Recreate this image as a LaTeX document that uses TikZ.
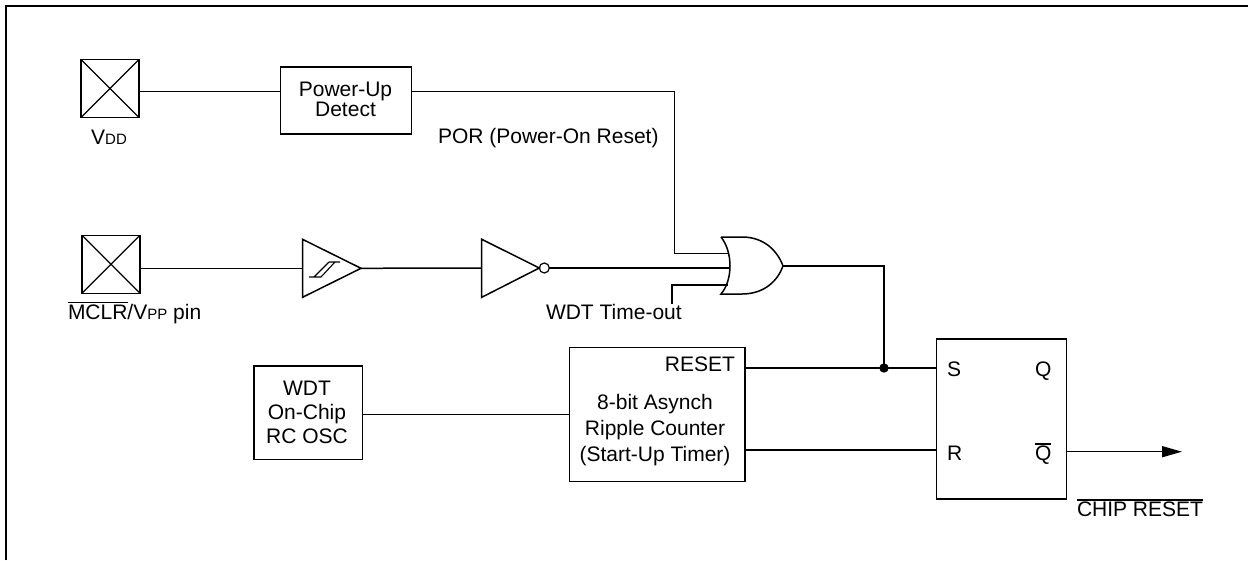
\documentclass[tikz,border=0pt]{standalone}
\usepackage{fontspec}
\setmainfont{Liberation Sans}
\usetikzlibrary{arrows.meta,calc}
\newcommand\ovl[1]{\vbox{\hrule height 1.3pt\kern 1.4pt\hbox{#1}}}
\newcommand\smallsub[1]{{\fontsize{15}{15}\selectfont #1}}
\begin{document}
\begin{tikzpicture}[x=1pt,y=-1pt, line width=1.5pt,
  every node/.style={font=\fontsize{21}{24}\selectfont, inner sep=0pt, outer sep=0pt},
  blk/.style={draw, line width=1.5pt},
  pad/.style={draw, minimum width=58pt, minimum height=58pt,
    path picture={\draw[line width=1.2pt] (path picture bounding box.south west) -- (path picture bounding box.north east)
      (path picture bounding box.north west) -- (path picture bounding box.south east);}},
  frame/.style={line width=2.8pt}]
\useasboundingbox (0,0) rectangle (1248,560);
% frame
\draw[frame] (6,560) -- (6,6) -- (1248,6);

% pads
\node[pad] (vdd) at (110,88.5) {};
\node[pad] (mclr) at (111,264.3) {};
\node[anchor=base] (vddlbl) at (109,144) {V\smallsub{DD}};
\node[anchor=base west] (mclrlbl) at (68,319) {\ovl{MCLR}/V\smallsub{PP} pin};

% power-up detect
\node[blk, minimum width=131pt, minimum height=67pt] (pud) at (346,100.7) {};
\node[anchor=base] (pud1) at (345.5,96) {Power-Up};
\node[anchor=base] (pud2) at (345.5,116.7) {Detect};
\node[anchor=base west] (por) at (438,143) {POR (Power-On Reset)};

% schmitt buffer
\coordinate (stin) at (302.5,268.3);
\coordinate (stout) at (361,268.3);
\draw (302.5,239.3) -- (stout) -- (302.5,297.3) -- cycle;
\draw[line width=1.1pt] (309,277) -- (321,277) (314,277) -- (329,262) (321,277) -- (335,262) (329,262) -- (340,262);

% inverter
\coordinate (invin) at (481.7,268);
\draw (481.7,239.3) -- (539.3,268) -- (481.7,297.3) -- cycle;
\node[circle, draw, line width=1.2pt, minimum size=10pt] (bub) at (544.3,268) {};

% OR gate
\draw (721,237) -- (742,237) .. controls (765,237) and (778,252) .. (783,266)
      .. controls (778,280) and (765,294) .. (742,294) -- (721,294)
      .. controls (733,280) and (733,252) .. (721,237);
\coordinate (orin1) at (727.5,253.3);
\coordinate (orin2) at (730,268);
\coordinate (orin3) at (727.5,285);
\coordinate (orout) at (783,266);
\coordinate (porx) at (674.3,253.3);
\coordinate (wdtto) at (672,303.5);
\node[anchor=base west] (wdtlbl) at (546,319.3) {WDT Time-out};

% WDT oscillator
\node[blk, minimum width=108.7pt, minimum height=93.3pt] (wdt) at (308.3,412.7) {};
\node[anchor=base] (w1) at (307,395.7) {WDT};
\node[anchor=base] (w2) at (307,419.3) {On-Chip};
\node[anchor=base] (w3) at (307,443.3) {RC OSC};

% counter
\node[blk, minimum width=175.7pt, minimum height=134pt] (ctr) at (657.2,414.7) {};
\node[anchor=base east] (rst) at (735,371) {RESET};
\node[anchor=base] (c1) at (655,409) {8-bit Asynch};
\node[anchor=base] (c2) at (655,435) {Ripple Counter};
\node[anchor=base] (c3) at (655,461.5) {(Start-Up Timer)};

% flip-flop
\node[blk, minimum width=130pt, minimum height=160pt] (ff) at (1001.7,419) {};
\node[anchor=base west] (fs) at (947,376) {S};
\node[anchor=base west] (fq) at (1035,376) {Q};
\node[anchor=base west] (fr) at (947,460.7) {R};
\node[anchor=base west] (fqb) at (1035,460.7) {\ovl{Q}};
\node[anchor=base west] (chip) at (1077,516.7) {\ovl{CHIP RESET}};

\coordinate (j) at (884,368);
\coordinate (tip) at (1182,451.7);

% wires
\draw ($(vdd.east)+(0,3.2)$) coordinate (v1) -- (v1 -| pud.west);
\draw (v1 -| pud.east) -| (porx) -- (orin1);
\draw ($(mclr.east)+(0,4)$) -- (stin);
\draw (stout) -- (invin);
\draw (bub.east) -- (orin2);
\draw (wdtto) |- (orin3);
\draw (orout) -| (j);
\draw (ctr.east |- j) -- (ff.west |- j);
\fill (j) circle (4.7);
\draw ($(ctr.east)+(0,35.3)$) coordinate (r1) -- (r1 -| ff.west);
\draw ($(wdt.east)+(0,1.6)$) coordinate (w0) -- (w0 -| ctr.west);
\draw[-{Triangle[length=20pt,width=11pt]}] ($(ff.east)+(0,32.7)$) coordinate (q1) -- (q1 -| tip);
\end{tikzpicture}
\end{document}
